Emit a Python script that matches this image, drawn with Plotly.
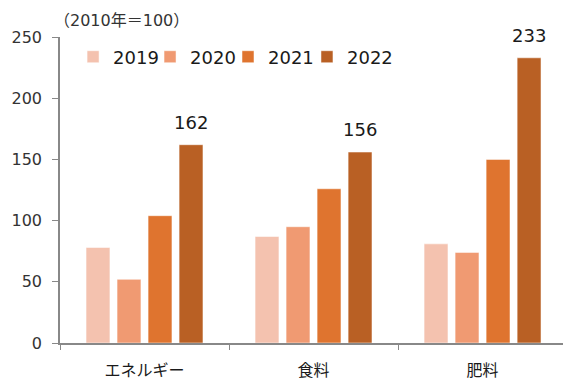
import plotly.graph_objects as go

categories = ["エネルギー", "食料", "肥料"]
years = ["2019", "2020", "2021", "2022"]
values_2019 = [78, 87, 81]
values_2020 = [52, 95, 74]
values_2021 = [104, 126, 150]
values_2022 = [162, 156, 233]
colors = ["#F4C2AF", "#F09A72", "#DF742F", "#B96024"]

series = [values_2019, values_2020, values_2021, values_2022]
font_family = "DejaVu Sans, Noto Sans CJK JP, sans-serif"
bargap = 0.266
bargroupgap = 0.23

# one single-entry legend per year, laid out in a row across the top
legend_names = ["legend", "legend2", "legend3", "legend4"]
legend_x = [0.026, 0.179, 0.334, 0.491]

fig = go.Figure()
for year, vals, color, lg in zip(years, series, colors, legend_names):
    fig.add_trace(go.Bar(
        name=year,
        x=categories,
        y=vals,
        legend=lg,
        marker=dict(color=color, line=dict(width=1, color="rgba(255,255,255,0.5)")),
    ))

# value labels above the 2022 bars (last slot of each group)
slot = (1 - bargap) / len(years)
last_offset = (len(years) - 1) / 2 * slot
annotations = [
    dict(x=i + last_offset, y=v, xref="x", yref="y", text=str(v),
         xanchor="center", yanchor="bottom", yshift=10, showarrow=False,
         font=dict(size=18, color="#1a1a1a"))
    for i, v in enumerate(values_2022)
]
annotations.append(dict(
    text="（2010年＝100）", xref="paper", yref="paper",
    x=0.0, y=1.0, xanchor="left", yanchor="bottom", yshift=5, xshift=-8,
    showarrow=False, font=dict(size=16, color="#333333"),
))

legend_style = dict(
    orientation="h", y=0.995, xanchor="left", yanchor="top",
    font=dict(size=18, color="#1a1a1a"),
    itemwidth=30, bgcolor="rgba(0,0,0,0)",
)
legends = {lg: dict(legend_style, x=x) for lg, x in zip(legend_names, legend_x)}

fig.update_layout(
    width=563, height=383,
    margin=dict(l=60, r=0, t=37, b=40),
    paper_bgcolor="white", plot_bgcolor="white",
    barmode="group", bargap=bargap, bargroupgap=bargroupgap,
    font=dict(family=font_family, color="#333333", size=15),
    showlegend=True,
    xaxis=dict(
        type="category", range=[-0.5, 2.476],
        showline=True, linecolor="#888888", linewidth=1.5,
        ticks="outside", tickson="boundaries", ticklen=5, tickcolor="#888888",
        tickfont=dict(size=16, color="#1a1a1a"),
        ticklabelstandoff=12,
        showgrid=False, zeroline=False,
    ),
    yaxis=dict(
        range=[0, 250], tickvals=[0, 50, 100, 150, 200, 250],
        showline=True, linecolor="#888888", linewidth=1.5,
        ticks="outside", ticklen=6, tickcolor="#888888",
        tickfont=dict(size=16, color="#333333"),
        ticklabelstandoff=7,
        showgrid=False, zeroline=False,
    ),
    annotations=annotations,
    **legends,
)

fig.write_html("out.html")
